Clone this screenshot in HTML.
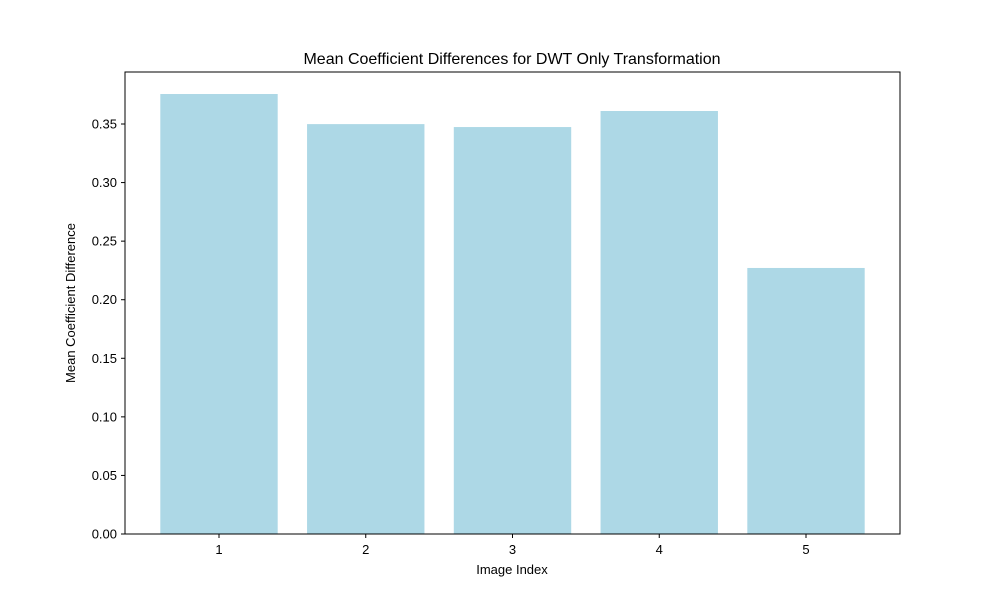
<!DOCTYPE html>
<html><head><meta charset="utf-8"><style>
body{margin:0;background:#fff;}
svg{display:block;font-family:"Liberation Sans","DejaVu Sans",sans-serif;}
</style></head><body>
<svg id="chart" width="1000" height="600" viewBox="0 0 1000 600">
<rect width="1000" height="600" fill="#fff"/>
<text x="512" y="64" text-anchor="middle" font-size="16">Mean Coefficient Differences for DWT Only Transformation</text>
<g id="bars"></g>
<g id="yticks"></g>
<g id="xticks"></g>
<rect x="125" y="72" width="775" height="462" fill="none" stroke="#000" stroke-width="1"/>
<text x="512" y="574" text-anchor="middle" font-size="13">Image Index</text>
<text x="0" y="0" transform="translate(75,303) rotate(-90)" text-anchor="middle" font-size="13">Mean Coefficient Difference</text>
</svg>
<script>
const categories = [1, 2, 3, 4, 5];
const values = [0.3756, 0.3499, 0.3474, 0.3611, 0.2271];
const yTickValues = [0, 0.05, 0.10, 0.15, 0.20, 0.25, 0.30, 0.35];
const yTickLabels = ["0.00","0.05","0.10","0.15","0.20","0.25","0.30","0.35"];

const NS = "http://www.w3.org/2000/svg";
function yScale(v){ return 534 - v * (410/0.35); }
function xScale(c){ return 219 + (c - 1) * 146.75; }
const bw = 0.8 * 146.75;

const bars = document.getElementById('bars');
categories.forEach((c, i) => {
  const r = document.createElementNS(NS, 'rect');
  r.setAttribute('x', xScale(c) - bw/2);
  r.setAttribute('y', yScale(values[i]));
  r.setAttribute('width', bw);
  r.setAttribute('height', yScale(0) - yScale(values[i]));
  r.setAttribute('fill', '#add8e6');
  
  
  bars.appendChild(r);
});

const yt = document.getElementById('yticks');
yTickValues.forEach((v, i) => {
  const y = yScale(v);
  const l = document.createElementNS(NS, 'line');
  l.setAttribute('x1', 121); l.setAttribute('x2', 125);
  l.setAttribute('y1', y); l.setAttribute('y2', y);
  l.setAttribute('stroke', '#000');
  
  
  yt.appendChild(l);
  const t = document.createElementNS(NS, 'text');
  t.setAttribute('x', 117); t.setAttribute('y', y + 4.5);
  t.setAttribute('text-anchor', 'end'); t.setAttribute('font-size', '13');
  t.textContent = yTickLabels[i];
  
  
  yt.appendChild(t);
});

const xt = document.getElementById('xticks');
categories.forEach(c => {
  const x = xScale(c);
  const l = document.createElementNS(NS, 'line');
  l.setAttribute('x1', x); l.setAttribute('x2', x);
  l.setAttribute('y1', 534); l.setAttribute('y2', 538);
  l.setAttribute('stroke', '#000');
  
  
  xt.appendChild(l);
  const t = document.createElementNS(NS, 'text');
  t.setAttribute('x', x); t.setAttribute('y', 554);
  t.setAttribute('text-anchor', 'middle'); t.setAttribute('font-size', '13');
  t.textContent = c;
  
  
  xt.appendChild(t);
});
</script>
</body></html>
